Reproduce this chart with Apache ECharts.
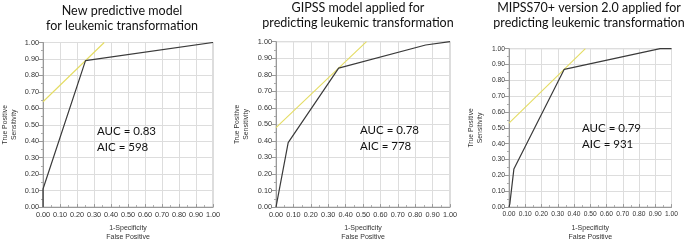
<!DOCTYPE html>
<html><head><meta charset="utf-8">
<script src="https://cdn.jsdelivr.net/npm/echarts@6/dist/echarts.min.js"></script>
<style>html,body{margin:0;padding:0;background:#fff}#c{width:685px;height:247px}</style>
</head><body><div id="c"></div>
<script>
// Titles
const titles = [
  "New predictive model\nfor leukemic transformation",
  "GIPSS model applied for\npredicting leukemic transformation",
  "MIPSS70+ version 2.0 applied for\npredicting leukemic transformation"
];
// ROC curves [1-specificity, sensitivity]
const roc1 = [[0,0],[0,0.11],[0.25,0.89],[1,1]];
const roc2 = [[0,0],[0.07,0.39],[0.36,0.84],[0.86,0.98],[1,1]];
const roc3 = [[0,0],[0.005,0.02],[0.03,0.24],[0.34,0.87],[0.93,1],[1,1]];
// tangent (slope 1) lines
const tan1 = [[0,0.64],[0.36,1]];
const tan2 = [[0,0.48],[0.52,1]];
const tan3 = [[0,0.53],[0.47,1]];
const aucs = ["AUC = 0.83","AUC = 0.78","AUC = 0.79"];
const aics = ["AIC = 598","AIC = 778","AIC = 931"];
const xName = "1-Specificity\nFalse Positive";
const yName = "True Positive\nSensitivity";

const rocs = [roc1, roc2, roc3];
const tans = [tan1, tan2, tan3];

const grids = [
  {left:41, top:42.5, width:172, height:170.5},
  {left:276, top:41.7, width:174, height:171.5},
  {left:509, top:48.7, width:162.5, height:161.5}
];
const labelSize = [7.3, 7.3, 6.7];
const nameGapX = [14, 14, 13];
const nameGapY = [24, 25, 24];
const titlePos = [
  {x:122, y:3},
  {x:358, y:0},
  {x:589, y:0.5}
];
const textPos = [
  {x:97, y:124},
  {x:360, y:123},
  {x:582, y:121}
];

function xAxis(i){
  return {gridIndex:i, type:'value', min:0, max:1, interval:0.1,
    name:xName, nameLocation:'middle', nameGap:nameGapX[i],
    nameTextStyle:{fontFamily:'Liberation Sans', fontSize:7, color:'#333', lineHeight:9.5},
    axisLine:{show:true, lineStyle:{color:'#999', width:1}},
    axisTick:{show:true, inside:true, length:3, lineStyle:{color:'#999'}},
    minorTick:{show:true, splitNumber:2, length:2, lineStyle:{color:'#aaa'}},
    splitLine:{show:true, lineStyle:{color:'#ddd', width:1}},
    axisLabel:{margin:4, formatter:v=>v.toFixed(2), hideOverlap:false,
      fontFamily:'Liberation Sans', fontSize:labelSize[i], color:'#333'}};
}
function yAxis(i){
  return {gridIndex:i, type:'value', min:0, max:1, interval:0.1,
    name:yName, nameLocation:'middle', nameGap:nameGapY[i], nameRotate:90,
    nameTextStyle:{fontFamily:'Liberation Sans', fontSize:6.8, color:'#333', lineHeight:9},
    axisLine:{show:true, lineStyle:{color:'#999', width:1}},
    axisTick:{show:true, inside:false, length:4, lineStyle:{color:'#999'}},
    minorTick:{show:true, splitNumber:2, length:2, lineStyle:{color:'#aaa'}},
    splitLine:{show:true, lineStyle:{color:'#ddd', width:1}},
    axisLabel:{margin:4, formatter:v=>v.toFixed(2),
      fontFamily:'Liberation Sans', fontSize:labelSize[i], color:'#333'}};
}

const series = [];
const graphic = [];
for (let i=0;i<3;i++){
  series.push({type:'line', xAxisIndex:i, yAxisIndex:i, data:tans[i], symbol:'none',
    lineStyle:{color:'#e4dc62', width:1.1}, z:2});
  series.push({type:'line', xAxisIndex:i, yAxisIndex:i, data:rocs[i], symbol:'none',
    lineStyle:{color:'#3a3a3a', width:1.2}, z:3});
  graphic.push({type:'text', x:titlePos[i].x, y:titlePos[i].y, z:100, style:{text:titles[i],
    fontFamily:'Lato', fontSize:12.5, fill:'#111', align:'center', verticalAlign:'top', lineHeight:15}});
  graphic.push({type:'text', x:textPos[i].x, y:textPos[i].y, z:100, style:{text:aucs[i]+"\n"+aics[i],
    fontFamily:'Lato', fontSize:11.5, fill:'#111', align:'left', verticalAlign:'top', lineHeight:15.5}});
}

const chart = echarts.init(document.getElementById('c'), null, {renderer:'canvas'});
chart.setOption({
  animation:false,
  backgroundColor:'#fff',
  grid:grids.map(g=>Object.assign({containLabel:false, show:true, borderColor:'#bbb', borderWidth:1}, g)),
  xAxis:[0,1,2].map(xAxis),
  yAxis:[0,1,2].map(yAxis),
  series:series,
  graphic:graphic
});
</script></body></html>
